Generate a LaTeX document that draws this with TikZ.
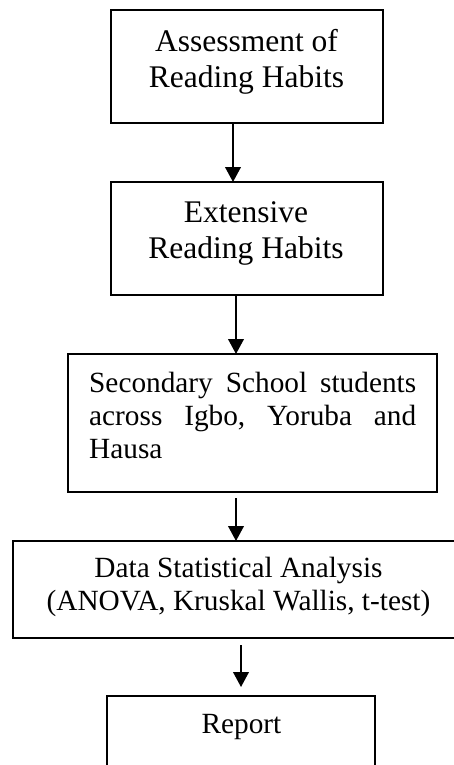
\documentclass[tikz,border=0pt]{standalone}
\usepackage{fontspec}
\setmainfont{Liberation Serif}
\usetikzlibrary{arrows.meta}
\begin{document}
\begin{tikzpicture}[x=1pt,y=-1pt,
  box/.style={draw,line width=1.7pt,inner sep=0pt,outer sep=0pt,rectangle},
  bigtxt/.style={anchor=base,inner sep=0pt,font=\fontsize{31.5}{36}\selectfont},
  smalltxt/.style={anchor=base,inner sep=0pt,font=\fontsize{29.3}{33}\selectfont},
  arr/.style={line width=1.7pt,-{Triangle[length=15pt,width=15.7pt]}}]
\useasboundingbox (0,0) rectangle (454,765);
\clip (0,0) rectangle (454,765);
% boxes
\node[box,minimum width=272pt,minimum height=113pt] (b1) at (247,66.5) {};
\node[box,minimum width=272pt,minimum height=113pt] (b2) at (247,238.5) {};
\node[box,minimum width=369pt,minimum height=138pt] (b3) at (252.5,423) {};
\node[box,minimum width=474pt,minimum height=97pt] (b4) at (250,589.5) {};
\node[box,minimum width=268pt,minimum height=94pt] (b5) at (241,743) {};
% texts
\node[bigtxt] (t1a) at (246.5,52) {Assessment of};
\node[bigtxt] (t1b) at (246.5,88) {Reading Habits};
\node[bigtxt] (t2a) at (246,222) {Extensive};
\node[bigtxt] (t2b) at (246,258) {Reading Habits};
\node[smalltxt,anchor=base west] (t3a) at (89,392) {\hbox to 327pt{Secondary\hfill School\hfill students}};
\node[smalltxt,anchor=base west] (t3b) at (89,425) {\hbox to 327pt{across\hfill Igbo,\hfill Yoruba\hfill and}};
\node[smalltxt,anchor=base west] (t3c) at (89,458) {Hausa};
\node[smalltxt] (t4a) at (238.5,577) {Data Statistical Analysis};
\node[smalltxt] (t4b) at (238.5,610) {(ANOVA, Kruskal Wallis, t-test)};
\node[smalltxt] (t5) at (241.5,733) {Report};
% arrows
\draw[arr] ([xshift=-14pt]b1.south) -- ([xshift=-14pt]b2.north);
\draw[arr] ([xshift=-11pt]b2.south) -- ([xshift=-16.5pt]b3.north);
\draw[arr] ([xshift=-16.5pt,yshift=-6pt]b3.south) -- ([xshift=-14pt]b4.north);
\draw[arr] ([yshift=-7pt]b4.south -| b5.north) -- ([yshift=9pt]b5.north);
\end{tikzpicture}
\end{document}
